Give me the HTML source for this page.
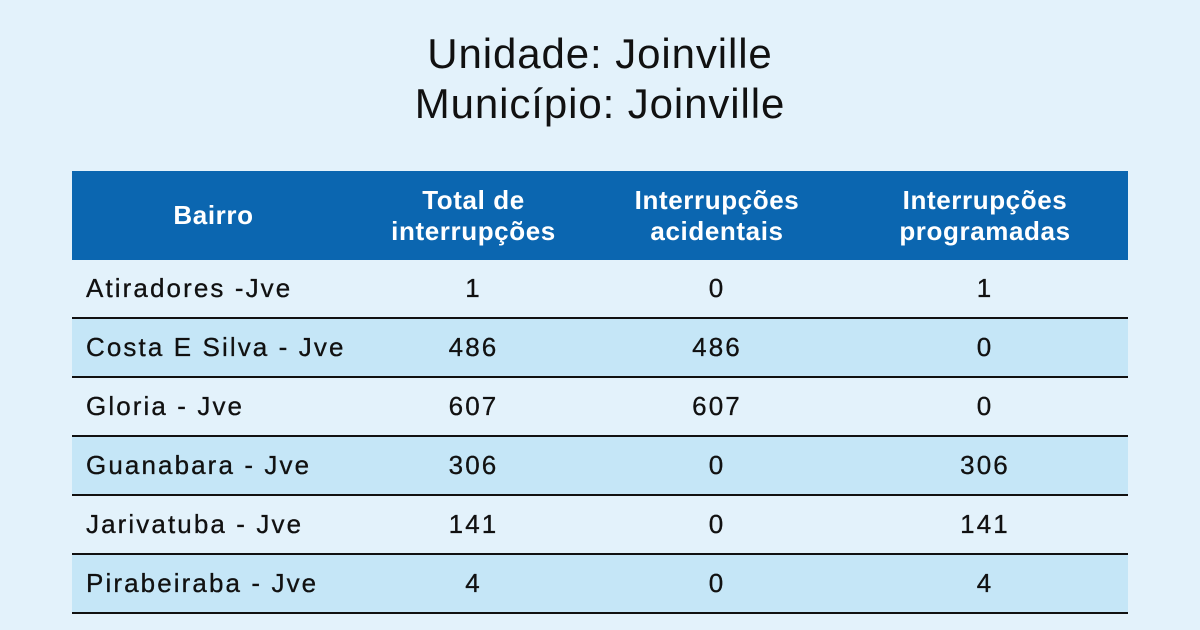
<!DOCTYPE html>
<html><head><style>
body{margin:0;width:1200px;height:630px;background:#e3f2fb;font-family:"Liberation Sans",Arial,sans-serif;position:relative;overflow:hidden}
.t{position:absolute;left:0;width:1200px;text-align:center;font-size:42px;color:#111;letter-spacing:0.9px}
table{position:absolute;left:72px;top:171px;width:1056px;border-collapse:collapse}
th{background:#0b66b0;color:#fff;font-size:26px;font-weight:bold;height:89px;padding:0;line-height:31px;letter-spacing:0.6px}
td{height:57px;border-bottom:2px solid #111;font-size:26px;color:#111;padding:0;text-align:center;letter-spacing:2.1px;-webkit-text-stroke:0.3px #111}
td:first-child{text-align:left;padding-left:14px}
tr.a td{background:#c5e6f7}
</style></head><body>
<div class="t" style="top:30px">Unidade: Joinville</div>
<div class="t" style="top:80px">Município: Joinville</div>
<table>
<colgroup><col style="width:283px"><col style="width:237px"><col style="width:250px"><col style="width:286px"></colgroup>
<tr><th>Bairro</th><th>Total de<br>interrupções</th><th>Interrupções<br>acidentais</th><th>Interrupções<br>programadas</th></tr>
<tr><td>Atiradores -Jve</td><td>1</td><td>0</td><td>1</td></tr>
<tr class="a"><td>Costa E Silva - Jve</td><td>486</td><td>486</td><td>0</td></tr>
<tr><td>Gloria - Jve</td><td>607</td><td>607</td><td>0</td></tr>
<tr class="a"><td>Guanabara - Jve</td><td>306</td><td>0</td><td>306</td></tr>
<tr><td>Jarivatuba - Jve</td><td>141</td><td>0</td><td>141</td></tr>
<tr class="a"><td>Pirabeiraba - Jve</td><td>4</td><td>0</td><td>4</td></tr>
</table>
</body></html>
